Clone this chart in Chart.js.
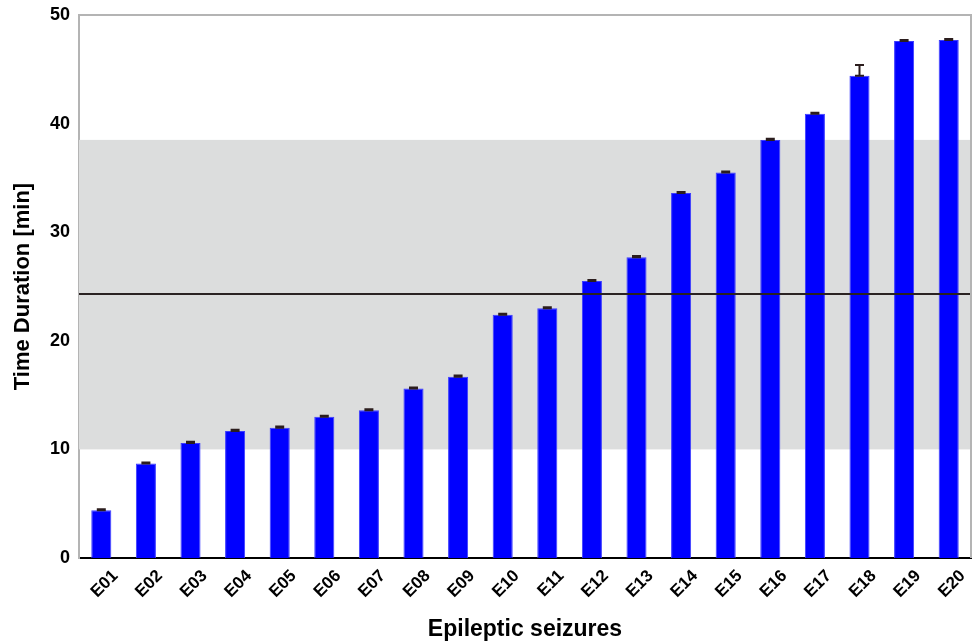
<!DOCTYPE html>
<html>
<head>
<meta charset="utf-8">
<script src="https://cdn.jsdelivr.net/npm/chart.js@4/dist/chart.umd.min.js"></script>
<style>
  html, body { margin: 0; padding: 0; background: #fff; }
  #wrap { width: 976px; height: 644px; }
</style>
</head>
<body>
<div id="wrap"><canvas id="c" width="976" height="644"></canvas></div>
<script>
// Seizure labels and their mean duration (minutes) with standard error
const seizures = ['E01','E02','E03','E04','E05','E06','E07','E08','E09','E10',
                  'E11','E12','E13','E14','E15','E16','E17','E18','E19','E20'];
const durations = [4.4, 8.7, 10.6, 11.7, 12.0, 13.0, 13.6, 15.6, 16.7, 22.4,
                   23.0, 25.5, 27.7, 33.6, 35.5, 38.5, 40.9, 44.4, 47.6, 47.7];
const errors = [0.1, 0.1, 0.1, 0.1, 0.1, 0.1, 0.1, 0.1, 0.1, 0.1,
                0.1, 0.1, 0.1, 0.1, 0.1, 0.1, 0.1, 1.0, 0.1, 0.1];
const meanDuration = 24.3;
const bandRange = [10.0, 38.5];
const yTicks = [0, 10, 20, 30, 40, 50];

const FONT = 'Arial, "Liberation Sans", Helvetica, sans-serif';

// Shaded spread band behind the bars
const bandPlugin = {
  id: 'band',
  beforeDatasetsDraw(chart) {
    const { ctx, chartArea: a, scales: { y } } = chart;
    const top = y.getPixelForValue(bandRange[1]);
    const bot = y.getPixelForValue(bandRange[0]);
    ctx.save();
    ctx.fillStyle = '#dcdddd';
    ctx.fillRect(a.left, top, a.right - a.left, bot - top);
    ctx.restore();
  }
};

// Nudge the rotated category labels so their ends sit right of each bar
const labelShiftPlugin = {
  id: 'labelShift',
  beforeDraw(chart) {
    const items = chart.scales.x.getLabelItems();
    if (items._shifted) return;
    items.forEach(it => { it.options.translation[0] += 14; });
    items._shifted = true;
  }
};

// Error bars, mean line and the grey frame on top/right
const overlayPlugin = {
  id: 'overlay',
  afterDatasetsDraw(chart) {
    const { ctx, chartArea: a, scales: { x, y } } = chart;
    ctx.save();
    // error bars (upper whisker; the lower one is hidden by the bar)
    ctx.strokeStyle = '#2b1d1d';
    ctx.lineWidth = 2;
    durations.forEach((v, i) => {
      const cx = x.getPixelForValue(i);
      const yt = y.getPixelForValue(v + errors[i]);
      const yv = y.getPixelForValue(v);
      ctx.beginPath();
      ctx.moveTo(cx, yt); ctx.lineTo(cx, yv);
      ctx.moveTo(cx - 4.5, yt); ctx.lineTo(cx + 4.5, yt);
      ctx.moveTo(cx - 4.5, yv); ctx.lineTo(cx + 4.5, yv);
      ctx.stroke();
    });
    // mean line
    const my = y.getPixelForValue(meanDuration);
    ctx.strokeStyle = '#2a2222';
    ctx.lineWidth = 2;
    ctx.beginPath();
    ctx.moveTo(a.left, my); ctx.lineTo(a.right, my);
    ctx.stroke();
    // frame top and right
    ctx.strokeStyle = '#b4b4b4';
    ctx.lineWidth = 2;
    ctx.beginPath();
    ctx.moveTo(a.left, a.top); ctx.lineTo(a.right, a.top); ctx.lineTo(a.right, a.bottom);
    ctx.stroke();
    ctx.restore();
  }
};

new Chart(document.getElementById('c'), {
  type: 'bar',
  data: {
    labels: seizures,
    datasets: [{
      data: durations,
      backgroundColor: '#0000ff',
      borderColor: '#3b3bff',
      borderWidth: 1,
      barPercentage: 0.45,
      categoryPercentage: 1.0
    }]
  },
  options: {
    responsive: false,
    animation: false,
    layout: { padding: { top: 15, right: 5, left: 0, bottom: 0 } },
    plugins: { legend: { display: false }, tooltip: { enabled: false } },
    scales: {
      x: {
        grid: { display: false, drawTicks: false },
        border: { color: '#000', width: 2 },
        ticks: {
          color: '#000',
          font: { family: FONT, size: 17, weight: 'bold' },
          maxRotation: 45, minRotation: 45,
          padding: 8
        },
        title: {
          display: true,
          text: 'Epileptic seizures',
          color: '#000',
          font: { family: FONT, size: 23, weight: 'bold' },
          padding: { top: 6, bottom: 1 }
        },
        afterFit(s) { s.height = 86; s.paddingLeft = 0; s.paddingRight = 0; }
      },
      y: {
        min: 0, max: 50,
        afterBuildTicks(s) { s.ticks = yTicks.map(v => ({ value: v })); },
        grid: { display: false, drawTicks: false },
        border: { color: '#b4b4b4', width: 2 },
        ticks: {
          color: '#000',
          font: { family: FONT, size: 18, weight: 'bold' },
          padding: 9
        },
        title: {
          display: true,
          text: 'Time Duration [min]',
          color: '#000',
          font: { family: FONT, size: 22, weight: 'bold' },
          padding: { top: 10, bottom: 10 }
        },
        afterFit(s) { s.width = 79; s.paddingTop = 0; s.paddingBottom = 0; }
      }
    }
  },
  plugins: [bandPlugin, labelShiftPlugin, overlayPlugin]
});
</script>
</body>
</html>
